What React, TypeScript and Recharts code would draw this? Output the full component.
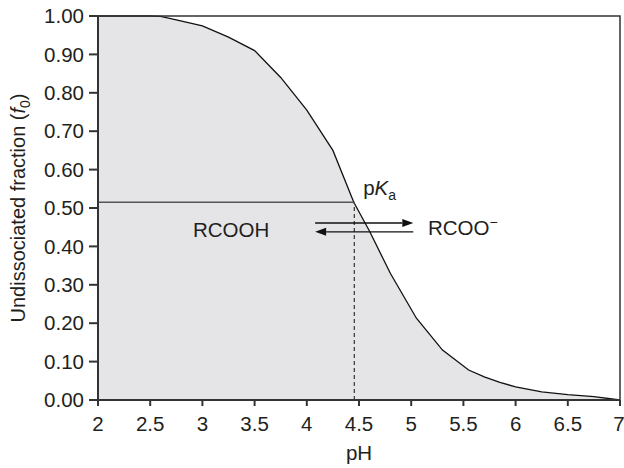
import {
  Area,
  AreaChart,
  ReferenceArea,
  ReferenceDot,
  ReferenceLine,
  XAxis,
  YAxis,
} from 'recharts';

const PH = [2, 2.5, 2.6, 2.75, 3.0, 3.25, 3.5, 3.75, 4.0, 4.25, 4.45, 4.6, 4.8, 5.05, 5.3, 5.55, 5.7, 5.85, 6.0, 6.25, 6.5, 6.75, 7.0];
const F0 = [1.0, 1.0, 0.999, 0.99, 0.974, 0.945, 0.91, 0.84, 0.755, 0.65, 0.515, 0.44, 0.33, 0.213, 0.13, 0.078, 0.06, 0.046, 0.034, 0.021, 0.014, 0.009, 0.0];

const X_TICKS = [2, 2.5, 3, 3.5, 4, 4.5, 5, 5.5, 6, 6.5, 7];
const Y_TICKS = [0, 0.1, 0.2, 0.3, 0.4, 0.5, 0.6, 0.7, 0.8, 0.9, 1.0];

const PKA = 4.455;
const HALF = 0.515;

const data = PH.map((ph, i) => ({ ph, f0: F0[i] }));

const FONT = '"Liberation Sans", Arial, Helvetica, sans-serif';
const INK = '#231f20';
const AXIS = '#333';
const FS = 20.5;

function Arrow(p: any) {
  const { x1, y1, x2, y2 } = p;
  const dir = x2 > x1 ? 1 : -1;
  const len = 11;
  const hw = 4;
  return (
    <g>
      <line x1={x1} y1={y1} x2={x2 - dir * len} y2={y2} stroke="#111" strokeWidth={1.3} />
      <polygon points={`${x2},${y2} ${x2 - dir * len},${y2 - hw} ${x2 - dir * len},${y2 + hw}`} fill="#111" />
    </g>
  );
}

export default function App() {
  return (
    <div style={{ position: 'absolute', left: 0, top: 0, background: '#fff' }}>
      <AreaChart width={624} height={468} data={data} margin={{ top: 16, right: 4, left: 0, bottom: 0 }}>
        <XAxis
          dataKey="ph"
          type="number"
          domain={[2, 7]}
          ticks={X_TICKS}
          height={68}
          tickSize={6}
          tickMargin={10}
          stroke={AXIS}
          strokeWidth={2}
          tick={{ fill: INK, fontSize: FS, fontFamily: FONT }}
          label={{
            content: (props: any) => {
              const vb = props.viewBox;
              return (
                <text x={vb.x + vb.width / 2} y={460} textAnchor="middle" fontSize={FS} fontFamily={FONT} fill={INK}>
                  pH
                </text>
              );
            },
          }}
        />
        <YAxis
          type="number"
          domain={[0, 1]}
          ticks={Y_TICKS}
          width={98}
          tickSize={9}
          tickMargin={5}
          stroke={AXIS}
          strokeWidth={2}
          tickFormatter={(v: number) => v.toFixed(2)}
          tick={{ fill: INK, fontSize: FS, fontFamily: FONT }}
          label={{
            content: (props: any) => {
              const vb = props.viewBox;
              const cx = 25;
              const cy = vb.y + vb.height / 2;
              return (
                <text
                  x={cx}
                  y={cy}
                  transform={`rotate(-90 ${cx} ${cy})`}
                  textAnchor="middle"
                  fontSize={20}
                  fontFamily={FONT}
                  fill={INK}
                >
                  Undissociated fraction (<tspan fontStyle="italic">f</tspan>
                  <tspan fontSize={14} dy={5}>0</tspan>
                  <tspan dy={-5}>)</tspan>
                </text>
              );
            },
          }}
        />
        <Area
          type="linear"
          dataKey="f0"
          stroke="#111"
          strokeWidth={1.3}
          fill="#e5e5e8"
          fillOpacity={1}
          dot={false}
          activeDot={false}
          isAnimationActive={false}
        />
        <ReferenceArea x1={2} x2={7} y1={0} y2={1} fill="none" stroke={AXIS} strokeWidth={1.5} ifOverflow="visible" />
        <ReferenceLine segment={[{ x: 2, y: HALF }, { x: PKA, y: HALF }]} stroke="#555" strokeWidth={1.3} />
        <ReferenceLine segment={[{ x: PKA, y: 0 }, { x: PKA, y: HALF }]} stroke="#333" strokeWidth={1.2} strokeDasharray="4 3" />
        <ReferenceLine segment={[{ x: 4.08, y: 0.461 }, { x: 5.02, y: 0.461 }]} shape={Arrow} />
        <ReferenceLine segment={[{ x: 5.02, y: 0.438 }, { x: 4.08, y: 0.438 }]} shape={Arrow} />
        <ReferenceDot
          x={4.54}
          y={0.534}
          r={0}
          shape={(p: any) => (
            <text x={p.cx} y={p.cy} fontSize={FS} fontFamily={FONT} fill={INK}>
              p<tspan fontStyle="italic">K</tspan>
              <tspan fontSize={14} dy={5}>a</tspan>
            </text>
          )}
        />
        <ReferenceDot
          x={2.91}
          y={0.4245}
          r={0}
          shape={(p: any) => (
            <text x={p.cx} y={p.cy} fontSize={FS} fontFamily={FONT} fill={INK}>
              RCOOH
            </text>
          )}
        />
        <ReferenceDot
          x={5.16}
          y={0.43}
          r={0}
          shape={(p: any) => (
            <text x={p.cx} y={p.cy} fontSize={FS} fontFamily={FONT} fill={INK}>
              RCOO<tspan fontSize={14} dy={-8}>−</tspan>
            </text>
          )}
        />
      </AreaChart>
    </div>
  );
}
